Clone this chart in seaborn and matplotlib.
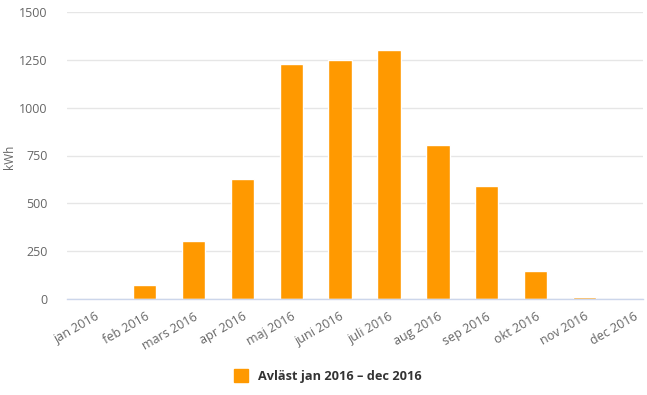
import seaborn as sns
import matplotlib.pyplot as plt
import pandas as pd
from matplotlib.patches import Patch

sns.set_style("white")
plt.rcParams['font.family'] = ['Open Sans', 'DejaVu Sans']

months = ['jan 2016', 'feb 2016', 'mars 2016', 'apr 2016', 'maj 2016', 'juni 2016',
          'juli 2016', 'aug 2016', 'sep 2016', 'okt 2016', 'nov 2016', 'dec 2016']
kwh = [0, 75, 303, 625, 1228, 1248, 1300, 803, 588, 148, 8, 0]
yticks = [0, 250, 500, 750, 1000, 1250, 1500]
series_name = 'Avläst jan 2016 – dec 2016'

df = pd.DataFrame({'month': months, 'kWh': kwh})
orange = '#ff9900'

fig = plt.figure(figsize=(6.47, 3.95), dpi=100)
ax = fig.add_axes([67 / 647, 1 - 299 / 395, 576 / 647, 287 / 395])

sns.barplot(data=df, x='month', y='kWh', color=orange, saturation=1,
            width=0.48, ax=ax)

ax.set_xlim(-0.59, 11.2)
ax.set_ylim(0, 1500)
ax.set_yticks(yticks)
ax.yaxis.grid(True, color='#e6e6e6', linewidth=1)
ax.set_axisbelow(True)
for s in ['top', 'right', 'left']:
    ax.spines[s].set_visible(False)
ax.spines['bottom'].set_color('#ccd6eb')
ax.spines['bottom'].set_linewidth(1)

ax.tick_params(axis='y', length=0, labelsize=9, labelcolor='#666666', pad=14)
ax.tick_params(axis='x', length=6, color='#ccd6eb', labelsize=9,
               labelcolor='#666666', pad=2)
plt.setp(ax.get_xticklabels(), rotation=30, ha='right', rotation_mode='anchor')

ax.set_xlabel('')
ax.set_ylabel('kWh', fontsize=8.5, color='#666666')
ax.yaxis.set_label_coords(16 / 647, 1 - 157 / 395, transform=fig.transFigure)

fig.legend(handles=[Patch(color=orange, label=series_name)],
           loc='center', bbox_to_anchor=(328 / 647, 1 - 376 / 395),
           frameon=False, handlelength=1.1, handleheight=1.1,
           prop={'weight': 'bold', 'size': 9.2}, labelcolor='#333333')

fig.savefig('out.png', dpi=100)
plt.close(fig)
